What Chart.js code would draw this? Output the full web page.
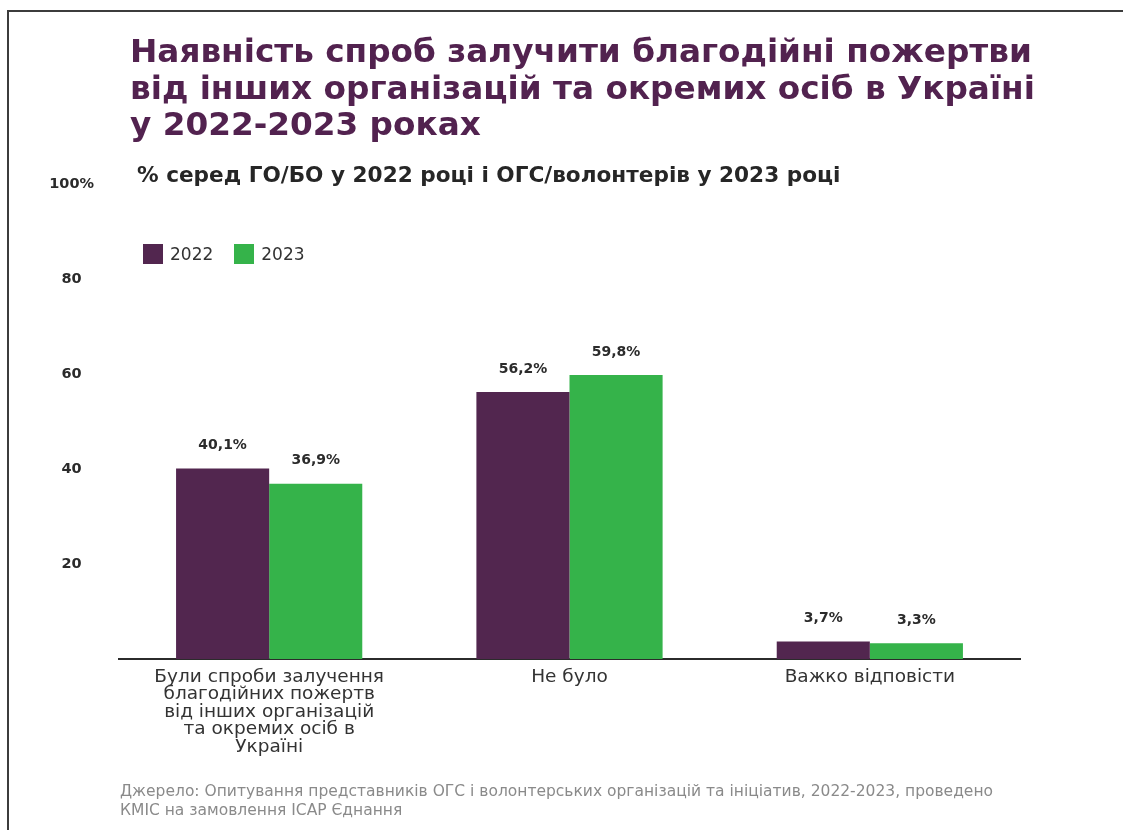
<!DOCTYPE html>
<html>
<head>
<meta charset="utf-8">
<script src="https://cdn.jsdelivr.net/npm/chart.js@4"></script>
<style>
  html, body { margin: 0; padding: 0; background: #fff; }
  #page { position: relative; width: 1123px; height: 830px; overflow: hidden; font-family: "DejaVu Sans", sans-serif; }
  #frame { position: absolute; left: 7px; top: 10px; right: -5px; bottom: -5px; border-top: 2px solid #3c3c3c; border-left: 2px solid #3c3c3c; }
  #chart-box { position: absolute; left: 0; top: 0; width: 1123px; height: 830px; }
  #title { position: absolute; left: 130px; top: 33px; font-size: 32.7px; font-weight: bold; line-height: 36.5px; color: #52224f; white-space: nowrap; }
  #subtitle { position: absolute; left: 137px; top: 162px; font-size: 21.6px; font-weight: bold; color: #262626; white-space: nowrap; }
  #legend { position: absolute; left: 143px; top: 244px; display: flex; align-items: center; font-size: 17px; color: #333; }
  #legend span.box { display: inline-block; width: 20px; height: 20px; margin-right: 7px; }
  #legend span.item { display: flex; align-items: center; margin-right: 21px; }
  #source { position: absolute; left: 120px; top: 782px; font-size: 15.5px; line-height: 19px; color: #8a8a8a; white-space: nowrap; }
</style>
</head>
<body>
<div id="page">
  <div id="frame"></div>
  <div id="chart-box"><canvas id="chart"></canvas></div>
  <div id="title">Наявність спроб залучити благодійні пожертви<br>від інших організацій та окремих осіб в Україні<br>у 2022-2023 роках</div>
  <div id="subtitle">% серед ГО/БО у 2022 році і ОГС/волонтерів у 2023 році</div>
  <div id="legend"></div>
  <div id="source">Джерело: Опитування представників ОГС і волонтерських організацій та ініціатив, 2022-2023, проведено<br>КМІС на замовлення ІСАР Єднання</div>
</div>
<script>
const categories = [
  ['Були спроби залучення', 'благодійних пожертв', 'від інших організацій', 'та окремих осіб в', 'Україні'],
  'Не було',
  'Важко відповісти'
];
const seriesNames = ['2022', '2023'];
const values2022 = [40.1, 56.2, 3.7];
const values2023 = [36.9, 59.8, 3.3];
const yTicks = [20, 40, 60, 80, 100];

const purple = '#52264f';
const green = '#35b34a';

const legendEl = document.getElementById('legend');
[[seriesNames[0], purple], [seriesNames[1], green]].forEach(([name, color]) => {
  const item = document.createElement('span');
  item.className = 'item';
  item.innerHTML = '<span class="box" style="background:' + color + '"></span>' + name;
  legendEl.appendChild(item);
});

// value labels above bars
const barLabels = {
  id: 'barLabels',
  afterDatasetsDraw(chart) {
    const c = chart.ctx;
    c.save();
    c.font = 'bold 14px "DejaVu Sans"';
    c.fillStyle = '#2b2b2b';
    c.textAlign = 'center';
    c.textBaseline = 'middle';
    chart.data.datasets.forEach((ds, i) => {
      chart.getDatasetMeta(i).data.forEach((bar, j) => {
        c.fillText(ds.data[j].toFixed(1).replace('.', ',') + '%', bar.x, bar.y - 23);
      });
    });
    c.restore();
  }
};

new Chart(document.getElementById('chart'), {
  type: 'bar',
  data: {
    labels: categories,
    datasets: [
      { label: seriesNames[0], data: values2022, backgroundColor: purple },
      { label: seriesNames[1], data: values2023, backgroundColor: green }
    ]
  },
  options: {
    responsive: true,
    maintainAspectRatio: false,
    animation: false,
    categoryPercentage: 0.62,
    barPercentage: 1,
    layout: { padding: { left: 40, right: 103, top: 184, bottom: 51 } },
    plugins: { legend: { display: false }, tooltip: { enabled: false } },
    scales: {
      x: {
        grid: { display: false, drawTicks: false },
        border: { display: true, color: '#2b2b2b', width: 2 },
        ticks: {
          padding: 9,
          maxRotation: 0,
          color: '#333',
          font: { family: 'DejaVu Sans', size: 18.5, lineHeight: 0.95 }
        },
        afterFit(scale) { scale.height = 120; }
      },
      y: {
        min: 0,
        max: 100,
        afterBuildTicks(scale) { scale.ticks = yTicks.map(v => ({ value: v })); },
        grid: { display: false, drawTicks: false },
        border: { display: false },
        ticks: {
          crossAlign: 'center',
          padding: 25,
          color: '#2b2b2b',
          font: { family: 'DejaVu Sans', size: 14.5, weight: 'bold' },
          callback: v => v === 100 ? '100%' : String(v)
        },
        afterFit(scale) { scale.width = 79; }
      }
    }
  },
  plugins: [barLabels]
});
</script>
</body>
</html>
